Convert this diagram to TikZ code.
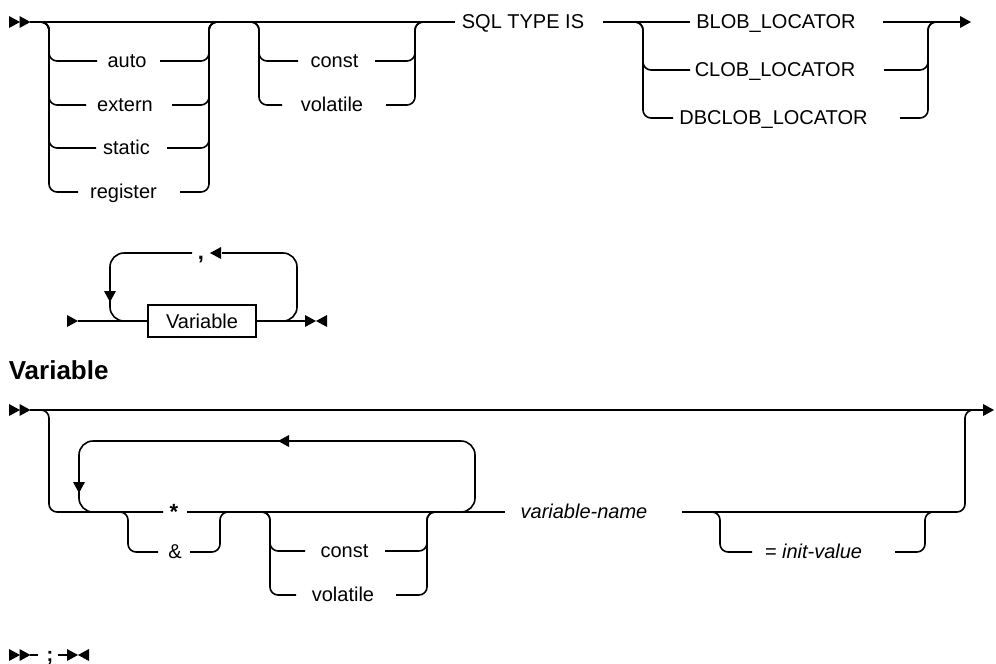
\documentclass[tikz,border=0pt]{standalone}
\usepackage{fontspec}
\setmainfont{Liberation Sans}
\begin{document}
\begin{tikzpicture}[x=1pt,y=-1pt,line width=1.6pt,
  rail/.style={line width=1.6pt,rounded corners=8pt},
  looprail/.style={line width=1.6pt,rounded corners=14pt},
  kw/.style={font=\fontsize{20}{24}\selectfont,inner sep=0pt,anchor=base},
  var/.style={kw,font=\fontsize{20}{24}\selectfont\itshape},
  rt/.pic={\fill (0,-6)--(11,0)--(0,6)--cycle;},
  lt/.pic={\fill (11,-6)--(0,0)--(11,6)--cycle;},
  dt/.pic={\fill (-6,0)--(0,11)--(6,0)--cycle;}]
\useasboundingbox (0,0) rectangle (996,664);

% ---------- top diagram ----------
\pic at (9,22) {rt}; \pic at (19.5,22) {rt};
\draw[rail] (30,22) -- (455,22);
\node[kw] (sql) at (523,28.5) {SQL TYPE IS};
\draw[rail] (603,22) -- (690,22);
\node[kw] (blob) at (776,28.5) {BLOB\_LOCATOR};
\draw[rail] (883,22) -- (960,22);
\pic at (960,22) {rt};

% group 1
\foreach \y/\xl/\xr in {61/97/160,105/86/172,148/96/167,192/78/180}{
  \draw[rail] (41,22)--(49,22)--(49,\y)--(\xl,\y);
  \draw[rail] (\xr,\y)--(209,\y)--(209,22)--(217,22);
}
\node[kw] (auto) at (127,67.5) {auto};
\node[kw] (extern) at (125,111.5) {extern};
\node[kw] (static) at (126.5,154.5) {static};
\node[kw] (register) at (123.5,198.5) {register};

% group 2
\foreach \y/\xl/\xr in {61/298/375,105/282/386}{
  \draw[rail] (251,22)--(259,22)--(259,\y)--(\xl,\y);
  \draw[rail] (\xr,\y)--(415,\y)--(415,22)--(423,22);
}
\node[kw] (const1) at (334.5,67.5) {const};
\node[kw] (volatile1) at (332,111.5) {volatile};

% group 3
\foreach \y/\xl/\xr in {70/690/884,118/673/900}{
  \draw[rail] (635,22)--(643,22)--(643,\y)--(\xl,\y);
  \draw[rail] (\xr,\y)--(928,\y)--(928,22)--(936,22);
}
\node[kw] (clob) at (775,76.5) {CLOB\_LOCATOR};
\node[kw] (dbclob) at (773.5,124.5) {DBCLOB\_LOCATOR};

% ---------- repeat diagram ----------
\pic at (67,321) {rt};
\node[draw,line width=1.6pt,minimum width=108pt,minimum height=32pt,inner sep=0pt,
      font=\fontsize{20}{24}\selectfont] (varbox) at (202,321) {Variable};
\draw[rail] (78,321) -- (varbox.west);
\draw[rail] (varbox.east) -- (305,321);
\pic at (305,321) {rt}; \pic at (316,321) {lt};
\draw[looprail] (222,253) -- (297,253) -- (297,321) -- (270,321);
\draw[looprail] (192,253) -- (110,253) -- (110,321) -- (135,321);
\node[kw,font=\fontsize{22}{24}\selectfont\bfseries] (comma) at (201,259.5) {,};
\pic at (210,253) {lt};
\pic at (110,291) {dt};

% ---------- Variable title ----------
\node[font=\fontsize{26}{30}\selectfont\bfseries,anchor=base west,inner sep=0pt] (title) at (8,379) {Variable};

% ---------- Variable diagram ----------
\pic at (9,410) {rt}; \pic at (19.5,410) {rt};
\draw[rail] (30,410) -- (983,410);
\pic at (983,410) {rt};
\draw[rail] (41,410)--(49,410)--(49,512)--(163,512);
\node[kw,font=\fontsize{22}{24}\selectfont\bfseries] (star) at (174,519) {*};
\draw[rail] (187,512) -- (505,512);
\node[var] (vname) at (584,518.5) {variable-name};
\draw[rail] (682,512) -- (965,512) -- (965,410) -- (975,410);

% * / &
\draw[rail] (120,512)--(128,512)--(128,552)--(158,552);
\node[kw] (amp) at (175,558.5) {\&};
\draw[rail] (190,552)--(220,552)--(220,512)--(228,512);

% const / volatile
\foreach \y/\xl/\xr in {551/305/385,595/296/396}{
  \draw[rail] (262,512)--(270,512)--(270,\y)--(\xl,\y);
  \draw[rail] (\xr,\y)--(427,\y)--(427,512)--(435,512);
}
\node[kw] (const2) at (344.5,557.5) {const};
\node[kw] (volatile2) at (343,601.5) {volatile};

% repeat loop
\draw[looprail] (100,512)--(79,512)--(79,441)--(475,441)--(475,512)--(455,512);
\pic at (278,441) {lt};
\pic at (79,482) {dt};

% init-value
\draw[rail] (712,512)--(720,512)--(720,552)--(752,552);
\node[var] (init) at (813.5,558.5) {= init-value};
\draw[rail] (895,552)--(925,552)--(925,512)--(933,512);

% ---------- bottom ----------
\pic at (9,655) {rt}; \pic at (19.5,655) {rt};
\draw[rail] (30,655) -- (38,655);
\node[kw,font=\fontsize{20}{24}\selectfont\bfseries] (semi) at (50,661.5) {;};
\draw[rail] (58,655) -- (67,655);
\pic at (67,655) {rt}; \pic at (78,655) {lt};
\end{tikzpicture}
\end{document}
